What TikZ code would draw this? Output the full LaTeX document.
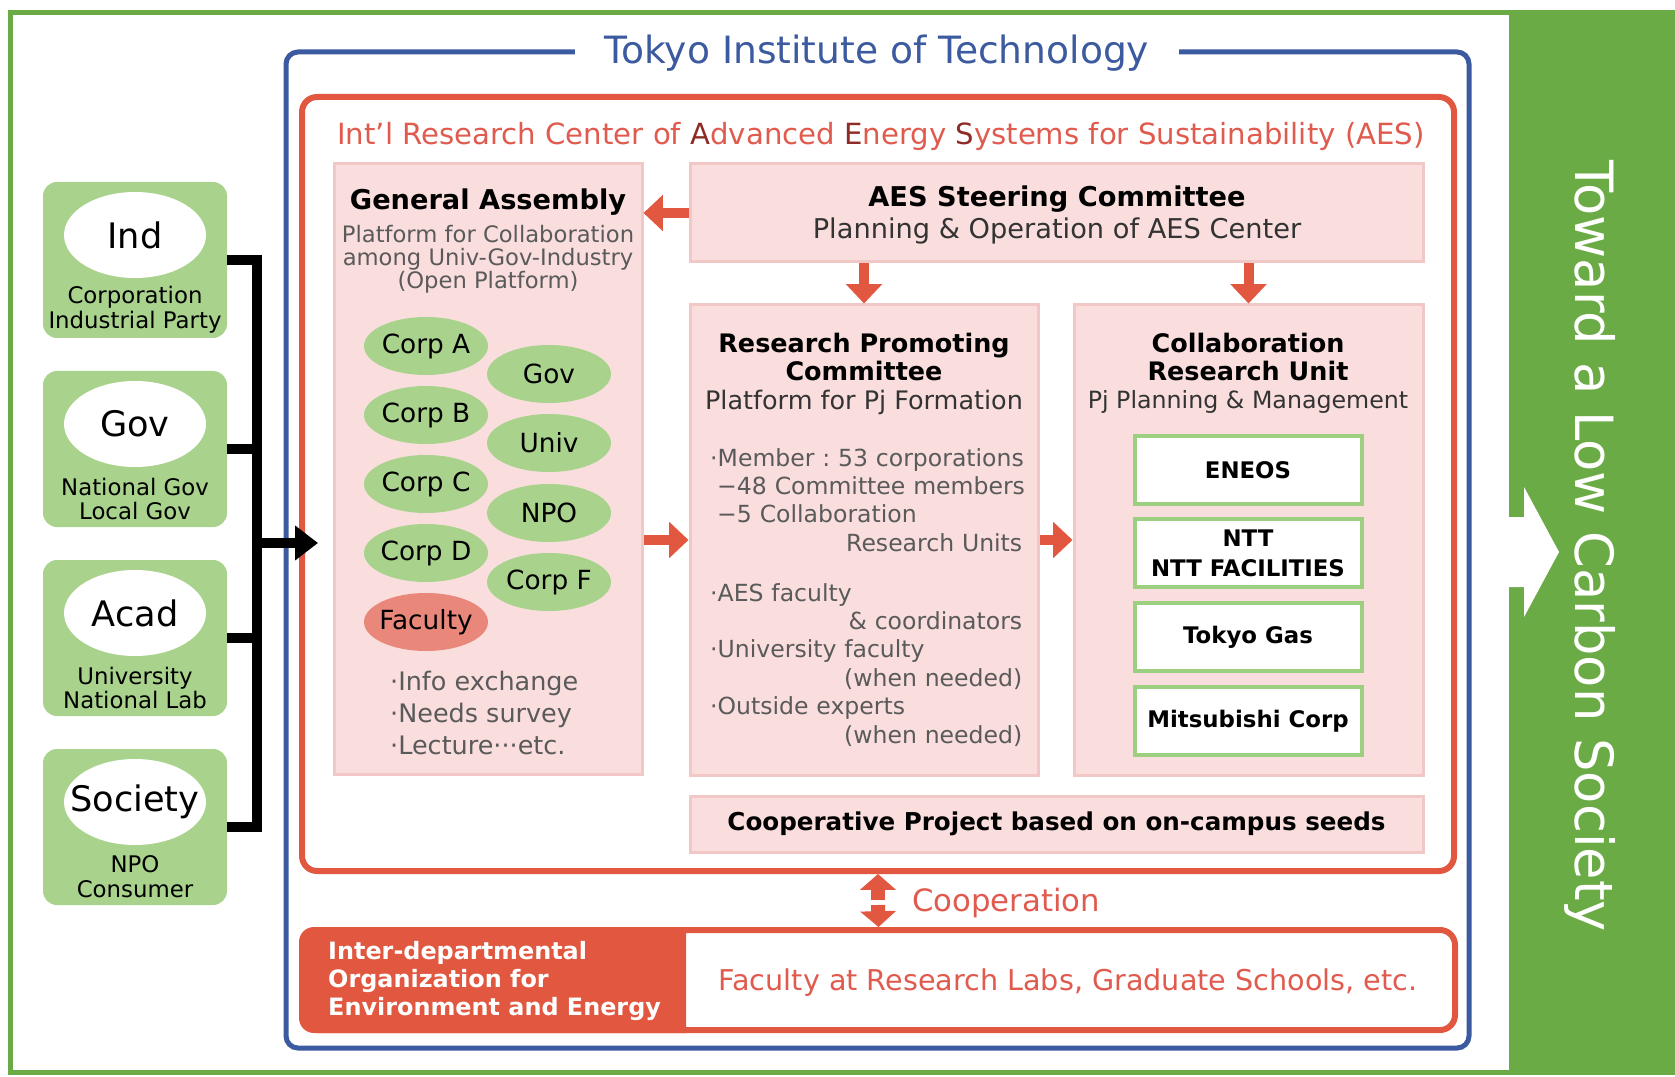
\documentclass[tikz,border=0pt]{standalone}
\usepackage{fontspec}
\setmainfont{DejaVu Sans}
\usetikzlibrary{shapes.geometric,arrows.meta}

\definecolor{leafgreen}{HTML}{6AAB46}
\definecolor{palegreen}{HTML}{A9D38D}
\definecolor{boxgreen}{HTML}{9CCF80}
\definecolor{titechblue}{HTML}{3C5AA0}
\definecolor{aesred}{HTML}{E1573F}
\definecolor{redtext}{HTML}{E05A4E}
\definecolor{darkred}{HTML}{8E2B26}
\definecolor{rosefill}{HTML}{F9DEDD}
\definecolor{roseline}{HTML}{F1C8C6}
\definecolor{facultypink}{HTML}{EA877B}
\definecolor{greytext}{HTML}{5A5A5A}
\definecolor{darktext}{HTML}{333333}

\newlength\pxu
\setlength\pxu{0.02cm}
\newcommand\setfs[2]{\fontsize{#1}{#2}\selectfont}
\newcommand\rline[1]{\makebox[312\pxu][r]{#1}}

\begin{document}
\begin{tikzpicture}[x=0.02cm, y=-0.02cm,
  actorbox/.style={fill=palegreen, rounded corners=14\pxu, minimum width=184\pxu, minimum height=156\pxu},
  actoroval/.style={ellipse, fill=white, minimum width=142\pxu, minimum height=86\pxu, inner xsep=-16\pxu, inner ysep=0pt, font=\setfs{20}{24}},
  actornote/.style={align=center, font=\setfs{13}{14.2}},
  rosebox/.style={fill=rosefill, draw=roseline, line width=3\pxu},
  member/.style={ellipse, fill=palegreen, minimum width=124\pxu, minimum height=58\pxu, inner xsep=-8\pxu, inner ysep=0pt, font=\setfs{15}{18}},
  company/.style={draw=boxgreen, fill=white, line width=4\pxu, minimum width=227\pxu, minimum height=68\pxu, align=center, font=\setfs{13}{17}\bfseries},
  listtext/.style={anchor=base west, align=left, text width=360\pxu, text=greytext, font=\setfs{13.4}{16.2}\frenchspacing},
  redarrow/.style={draw=aesred, line width=10\pxu, -{Triangle[width=20pt,length=11pt]}},
  cooparrow/.style={draw=aesred, line width=14\pxu, -{Triangle[width=20pt,length=9pt]}},
  bracket/.style={draw=black, line width=10\pxu}]
  \useasboundingbox (0,0) rectangle (1675,1077);

  % outer frame and goal bar
  \fill[leafgreen] (1511,10) rectangle (1675,1075);
  \draw[leafgreen, line width=5\pxu] (10.5,12.5) rectangle (1511,1072.5);
  \fill[white] (1500,517) -- (1524,517) -- (1524,487) -- (1559,552) -- (1524,617) -- (1524,587) -- (1500,587) -- cycle;
  \node[rotate=-90, text=white, font=\setfs{30}{36}] (goal) at (1590,546) {Toward a Low Carbon Society};

  % actors
  \node[actorbox] (ind) at (135,260) {};
  \node[actoroval] (indoval) at (135,235) {Ind};
  \node[actornote] (indnote) at (135,310) {Corporation\\Industrial Party};
  \node[actorbox] (gov) at (135,449) {};
  \node[actoroval] (govoval) at (135,424) {Gov};
  \node[actornote] (govnote) at (135,499) {National Gov\\Local Gov};
  \node[actorbox] (acad) at (135,638) {};
  \node[actoroval] (acadoval) at (135,613) {Acad};
  \node[actornote] (acadnote) at (135,688) {University\\National Lab};
  \node[actorbox] (soc) at (135,827) {};
  \node[actoroval] (socoval) at (135,802) {Society};
  \node[actornote] (socnote) at (135,877) {NPO\\Consumer};

  % Tokyo Tech
  \draw[titechblue, line width=5\pxu, rounded corners=12\pxu] (286,52) rectangle (1469,1048);
  \node[fill=white, inner xsep=30\pxu, text=titechblue, font=\setfs{21.4}{26}] (titech) at (877,53) {Tokyo Institute of Technology};

  % AES center
  \node[draw=aesred, line width=6\pxu, rounded corners=15\pxu, minimum width=1152\pxu, minimum height=774\pxu] (aes) at (878,484) {};
  \node[text=redtext, font=\setfs{16.6}{20}] (aestitle) at (881,136) {Int'l Research Center of {\color{darkred}A}dvanced {\color{darkred}E}nergy {\color{darkred}S}ystems for Sustainability (AES)};

  \node[rosebox, minimum width=308\pxu, minimum height=610\pxu] (ga) at (488,469) {};
  \node[font=\setfs{15.5}{18}\bfseries] (gatitle) at (488,202) {General Assembly};
  \node[align=center, text=greytext, font=\setfs{12.9}{13}] (gasub) at (488,259) {Platform for Collaboration\\among Univ-Gov-Industry\\(Open Platform)};
  \node[member] (corpa) at (426,346) {Corp A};
  \node[member] (corpb) at (426,415) {Corp B};
  \node[member] (corpc) at (426,484) {Corp C};
  \node[member] (corpd) at (426,553) {Corp D};
  \node[member, fill=facultypink] (faculty) at (426,622) {Faculty};
  \node[member] (govt) at (549,374) {Gov};
  \node[member] (univ) at (549,443) {Univ};
  \node[member] (npo) at (549,513) {NPO};
  \node[member] (corpf) at (549,582) {Corp F};
  \node[anchor=west, align=left, text=greytext, font=\setfs{14.5}{18}] (galist) at (384,713) {·Info exchange\\·Needs survey\\·Lecture···etc.};

  \node[rosebox, minimum width=733\pxu, minimum height=98\pxu] (steer) at (1056.5,213) {};
  \node[font=\setfs{15.5}{18}\bfseries] (steertitle) at (1057,199) {AES Steering Committee};
  \node[text=darktext, font=\setfs{15.5}{18}] (steersub) at (1057,231) {Planning \& Operation of AES Center};

  \node[rosebox, minimum width=348\pxu, minimum height=470\pxu] (rpc) at (864,540) {};
  \node[align=center, font=\setfs{14.5}{16.4}\bfseries] (rpctitle) at (864,357) {Research Promoting\\Committee};
  \node[text=darktext, font=\setfs{14.5}{17}] (rpcsub) at (864,402) {Platform for Pj Formation};
  \node[listtext] (rpcmembers) at (704,466) {·Member : 53 corporations\\\hspace*{4pt}−48 Committee members\\\hspace*{4pt}−5 Collaboration\\\rline{Research Units}};
  \node[listtext] (rpcstaff) at (704,601) {·AES faculty\\\rline{\& coordinators}\\·University faculty\\\rline{(when needed)}\\·Outside experts\\\rline{(when needed)}};

  \node[rosebox, minimum width=349\pxu, minimum height=470\pxu] (cru) at (1248.5,540) {};
  \node[align=center, font=\setfs{14.5}{16.4}\bfseries] (crutitle) at (1248,357) {Collaboration\\Research Unit};
  \node[text=darktext, font=\setfs{13.5}{17}] (crusub) at (1248,402) {Pj Planning \& Management};
  \node[company] (eneos) at (1248,470) {ENEOS};
  \node[company] (ntt) at (1248,553) {NTT\\NTT FACILITIES};
  \node[company] (tgas) at (1248,637) {Tokyo Gas};
  \node[company] (mc) at (1248,721) {Mitsubishi Corp};

  \node[rosebox, minimum width=733\pxu, minimum height=56\pxu, font=\setfs{14}{17}\bfseries] (coop) at (1056.5,824) {Cooperative Project based on on-campus seeds};

  \draw[redarrow] (steer.west) -- (steer.west -| ga.east);
  \draw[redarrow] (steer.south -| rpc.north) -- (rpc.north);
  \draw[redarrow] (steer.south -| cru.north) -- (cru.north);
  \draw[redarrow] (ga.east |- rpc.west) -- (rpc.west);
  \draw[redarrow] (rpc.east) -- (cru.west);

  % inter-departmental organization
  \node[draw=aesred, fill=white, line width=6\pxu, rounded corners=15\pxu, minimum width=1153\pxu, minimum height=100\pxu] (ioee) at (878.5,980) {};
  \begin{scope}
    \clip (290,920) rectangle (686,1040);
    \fill[aesred, rounded corners=15\pxu] (299,927) rectangle (720,1033);
  \end{scope}
  \node[anchor=west, align=left, text=white, font=\setfs{13.6}{16.2}\bfseries] (ioeename) at (322,981) {Inter-departmental\\Organization for\\Environment and Energy};
  \node[text=redtext, font=\setfs{16.3}{20}] (ioeestaff) at (1068,983) {Faculty at Research Labs, Graduate Schools, etc.};

  \coordinate (coopup) at (878,900);
  \coordinate (coopdown) at (878,905);
  \draw[cooparrow] (coopup) -- (aes.south);
  \draw[cooparrow] (coopdown) -- (ioee.north);
  \node[anchor=west, text=redtext, font=\setfs{17.5}{20}] (cooplabel) at (906,903) {Cooperation};

  % actors into the center
  \coordinate (trunk) at (257,543);
  \coordinate (entry) at (318,543);
  \draw[bracket] (ind.east) -| (trunk) |- (soc.east);
  \draw[bracket] (gov.east) -- (gov.east -| trunk);
  \draw[bracket] (acad.east) -- (acad.east -| trunk);
  \draw[bracket, -{Triangle[width=19pt,length=13pt]}] (trunk) -- (entry);
\end{tikzpicture}
\end{document}
